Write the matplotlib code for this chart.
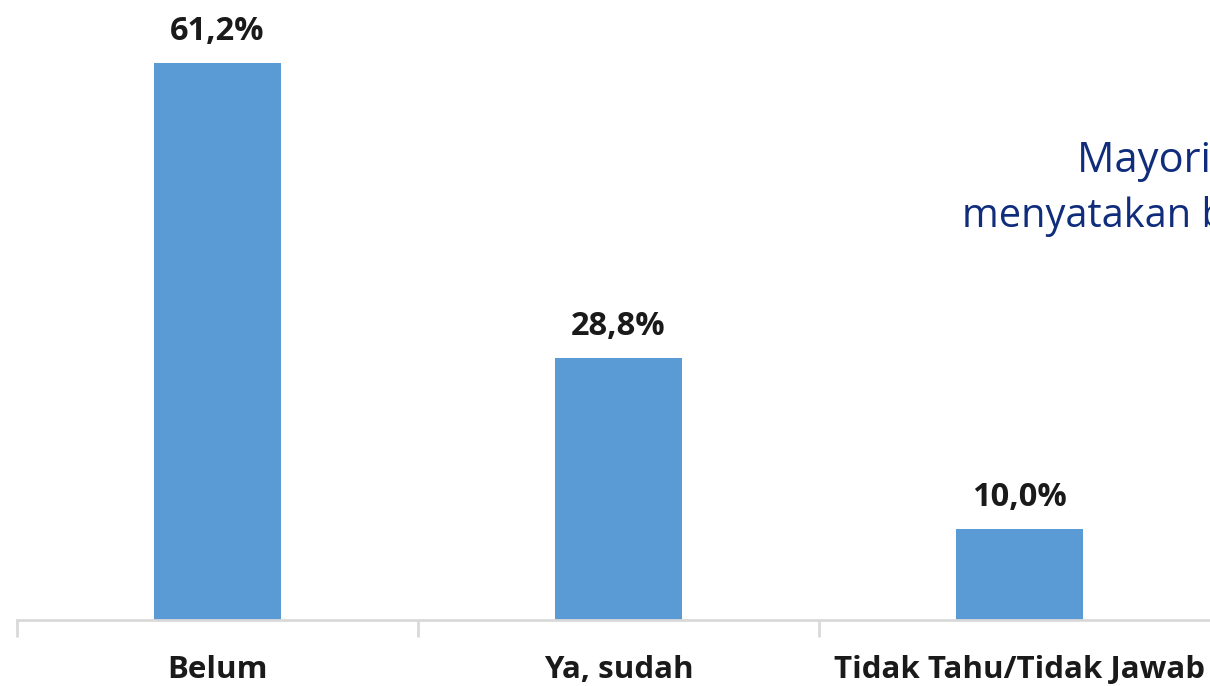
import matplotlib.pyplot as plt

categories = ['Belum', 'Ya, sudah', 'Tidak Tahu/Tidak Jawab']
values = [61.2, 28.8, 10.0]
labels = ['61,2%', '28,8%', '10,0%']

plt.rcParams['font.family'] = ['Open Sans', 'DejaVu Sans']

fig = plt.figure(figsize=(12.1, 6.86), dpi=100)
# axes stretch a bit past the right edge, as in the cropped original
ax = fig.add_axes([17 / 1210, 66 / 686, 1203 / 1210, 619 / 686])

x = range(len(categories))
ax.bar(x, values, width=0.317, color='#5b9bd5')
for xi, v, lab in zip(x, values, labels):
    ax.text(xi, v + 1.6, lab, ha='center', va='bottom',
            fontsize=23.5, fontweight='bold', color='#1a1a1a')

ax.set_xlim(-0.5, 2.5)
ax.set_ylim(0, 68)
ax.set_yticks([])
ax.set_xticks(x)
ax.set_xticklabels(categories, fontsize=22.5, fontweight='bold', color='#1a1a1a')
ax.set_xticks([-0.5, 0.5, 1.5, 2.5], minor=True)
ax.tick_params(axis='x', which='major', length=0, pad=25)
ax.tick_params(axis='x', which='minor', length=12, width=2, color='#d9d9d9')
for s in ['top', 'right', 'left']:
    ax.spines[s].set_visible(False)
ax.spines['bottom'].set_color('#d9d9d9')
ax.spines['bottom'].set_linewidth(2)

# side note, cut off at the right edge like the original slide
fig.text(1077 / 1210, 1 - 172 / 686, 'Mayoritas responden', ha='left',
         va='baseline', fontsize=30, color='#102d7c')
fig.text(962 / 1210, 1 - 227 / 686, 'menyatakan belum', ha='left',
         va='baseline', fontsize=28.6, color='#102d7c')

fig.savefig('out.png', dpi=100)
